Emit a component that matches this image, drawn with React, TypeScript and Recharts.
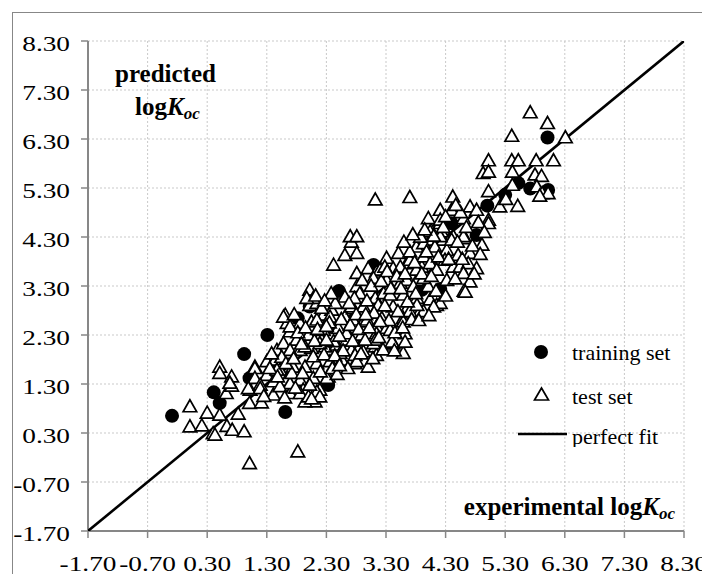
import { CartesianGrid, Legend, Scatter, ScatterChart, XAxis, YAxis } from "recharts";

const axisTicks = [-1.7, -0.7, 0.3, 1.3, 2.3, 3.3, 4.3, 5.3, 6.3, 7.3, 8.3];

// experimental, predicted
const trainingSet: [number, number][] = [
  [-0.29, 0.65], [0.41, 1.13], [0.51, 0.91], [0.92, 1.91], [1.01, 1.42],
  [1.31, 2.3], [1.61, 0.73], [1.82, 2.64], [2.02, 2.88], [2.33, 1.28],
  [2.51, 3.2], [3.09, 3.73], [3.9, 3.22], [4.21, 3.24], [4.4, 4.58],
  [4.82, 4.34], [5.0, 4.94], [5.3, 5.16], [5.52, 5.4], [5.72, 5.29],
  [6.01, 6.33], [6.02, 5.26],
];

const testSet: [number, number][] = [
  [0.01, 0.84], [0.01, 0.43], [0.21, 0.45], [0.3, 0.71], [0.4, 0.29], [0.43, 0.26],
  [0.51, 1.65], [0.51, 1.52], [0.51, 0.67], [0.63, 0.44], [0.62, 1.11], [0.71, 1.45],
  [0.71, 1.26], [0.68, 1.32], [0.72, 0.36], [0.82, 0.69], [0.92, 0.33], [1.01, 0.91],
  [1.02, 1.18], [1.01, -0.32], [1.1, 1.65], [1.21, 0.92], [1.82, -0.08], [2.11, 0.94],
  [2.19, 1.18],
  [1.61, 2.71], [1.64, 2.54], [1.69, 2.37], [2.02, 2.91], [2.14, 2.95], [1.86, 2.54],
  [2.05, 2.57], [2.25, 2.71], [2.39, 2.81], [2.61, 2.67], [2.75, 2.84], [1.47, 1.99],
  [1.58, 2.13], [1.8, 2.2], [2.0, 2.3], [2.19, 2.27], [2.42, 2.33], [2.64, 2.37],
  [1.3, 1.76], [1.44, 1.79], [1.66, 1.93], [1.86, 1.99], [2.05, 2.03], [2.28, 2.06],
  [2.47, 2.1], [2.72, 1.99], [1.1, 1.62], [1.1, 1.42], [1.3, 1.48], [1.52, 1.59],
  [1.74, 1.65], [1.94, 1.65], [2.14, 1.72], [2.36, 1.76], [2.56, 1.79], [2.78, 1.72],
  [0.99, 1.21], [1.19, 1.28], [1.41, 1.35], [1.63, 1.38], [1.86, 1.38], [2.08, 1.42],
  [2.33, 1.45], [1.41, 1.08], [1.69, 1.11], [1.91, 1.18], [2.14, 1.14], [1.94, 0.94],
  [1.19, 1.21],
  [2.72, 4.2], [2.61, 3.93], [2.81, 3.97], [2.42, 3.73], [3.31, 3.87], [3.0, 3.66],
  [3.14, 3.59], [2.81, 3.56], [2.02, 3.22], [2.08, 3.05], [1.97, 3.05], [2.61, 3.08],
  [2.81, 3.29], [2.72, 2.88], [2.92, 2.88], [3.12, 3.05], [3.26, 3.15], [3.42, 2.88],
  [2.14, 2.61], [2.36, 2.67], [2.25, 2.4], [2.5, 2.44], [2.92, 2.57], [3.14, 2.47],
  [3.31, 2.44], [1.69, 1.99], [1.94, 2.06], [2.19, 2.13], [2.42, 2.17], [2.64, 2.2],
  [2.86, 2.06], [3.12, 2.06], [3.4, 2.1], [2.53, 1.93], [2.78, 1.89], [3.14, 1.89],
  [2.7, 4.31], [2.81, 4.31], [3.51, 3.97], [3.81, 4.1], [4.01, 4.54], [4.21, 4.58],
  [4.04, 4.24], [4.26, 4.24], [4.43, 4.31], [4.43, 3.69], [3.2, 3.63], [3.42, 3.66],
  [3.65, 3.76], [3.9, 3.69], [4.12, 3.66], [3.09, 3.46], [3.31, 3.42], [3.54, 3.36],
  [3.82, 3.42], [4.01, 3.29], [2.86, 3.15], [3.37, 3.12], [3.59, 3.12], [3.82, 3.05],
  [4.04, 3.02], [4.15, 2.91], [3.17, 2.91], [3.65, 2.84], [3.87, 2.78], [2.75, 2.61],
  [2.98, 2.61], [3.23, 2.64], [3.59, 2.64], [2.64, 2.33], [2.89, 2.3], [3.14, 2.33],
  [3.37, 2.4], [3.62, 2.33], [3.09, 2.13], [3.42, 2.13],
  [3.7, 5.11], [4.42, 5.12], [4.21, 4.85], [4.4, 4.85], [4.71, 4.92], [4.82, 4.85],
  [4.01, 4.68], [4.21, 4.65], [4.6, 4.68], [5.02, 4.65], [5.21, 4.92], [4.04, 4.41],
  [4.23, 4.41], [4.63, 4.27], [4.91, 4.14], [3.93, 4.17], [4.12, 4.1], [4.32, 4.03],
  [4.51, 3.93], [4.71, 3.97], [3.7, 3.83], [3.93, 3.9], [4.04, 3.76], [4.29, 3.83],
  [4.54, 3.69], [4.68, 3.76], [4.82, 3.66], [3.28, 3.69], [3.54, 3.69], [3.81, 3.63],
  [4.15, 3.63], [3.65, 3.42], [3.93, 3.46], [4.32, 3.42], [4.6, 3.56], [4.71, 3.39],
  [3.76, 3.29],
  [3.12, 5.06], [4.61, 3.2], [4.21, 2.95], [4.1, 2.88], [4.6, 4.31],
  [5.72, 6.84], [6.01, 6.62], [5.41, 6.36], [6.31, 6.33], [5.02, 5.86], [5.41, 5.86],
  [5.52, 5.86], [5.82, 5.86], [6.11, 5.86], [4.93, 5.6], [5.02, 5.63], [5.42, 5.63],
  [5.8, 5.57], [5.91, 5.54], [5.42, 5.36], [5.83, 5.33], [5.92, 5.19], [6.02, 5.19],
  [5.02, 5.23], [5.31, 5.07], [5.51, 4.93], [5.02, 4.58], [4.4, 4.24], [4.21, 4.31],
  [5.88, 5.14],
  [3.59, 1.93], [3.0, 1.65], [2.81, 1.76], [2.92, 1.96], [3.12, 2.2], [3.4, 2.16],
  [3.62, 2.16], [3.59, 2.57], [3.7, 2.78], [3.93, 2.78], [4.63, 3.18], [3.82, 2.91],
  [1.58, 2.67], [1.69, 2.47], [1.47, 1.59], [1.69, 1.31], [1.86, 1.11], [2.0, 1.04],
  [2.19, 1.04], [2.31, 1.42],
  // denser core of the band
  [1.25, 1.05], [1.35, 1.62], [1.52, 1.25], [1.55, 1.85], [1.38, 1.92], [1.6, 1.02],
  [1.48, 1.45], [1.72, 1.52], [1.78, 1.22], [1.62, 1.72], [1.75, 1.82], [1.82, 2.35],
  [1.9, 1.52], [1.95, 2.45], [2.02, 1.28], [2.08, 1.86], [2.1, 2.18], [2.15, 2.42],
  [2.2, 1.55], [2.22, 2.85], [2.05, 1.0], [1.88, 2.12], [1.76, 2.72],
  [2.12, 3.1], [2.26, 1.9], [2.3, 2.2], [2.35, 2.55], [2.4, 1.62],
  [2.45, 2.95], [2.48, 1.5], [2.52, 2.28], [2.55, 2.62], [2.58, 1.98],
  [2.66, 1.62], [2.7, 2.5], [2.74, 2.18], [2.77, 3.05], [2.8, 2.72], [2.38, 3.15],
  [2.27, 3.0], [2.44, 1.88], [2.68, 2.95], [2.3, 2.48], [2.52, 1.68],
  [2.84, 2.42], [2.88, 1.92], [2.9, 3.42], [2.95, 2.2], [2.98, 3.0], [3.02, 2.45],
  [3.05, 3.3], [3.08, 1.82], [3.1, 2.75], [3.18, 2.25], [3.22, 3.4],
  [3.25, 2.0], [3.28, 2.9], [3.32, 3.6], [3.35, 2.6], [3.38, 3.25], [3.45, 2.35],
  [3.48, 3.5], [3.5, 2.78], [2.96, 2.72], [3.2, 2.58], [3.44, 1.98],
  [3.55, 3.25], [3.58, 2.45], [3.62, 3.55], [3.66, 2.98], [3.7, 4.0], [3.73, 2.62],
  [3.78, 3.78], [3.8, 3.15], [3.85, 2.6], [3.88, 4.3], [3.9, 3.55],
  [3.98, 4.0], [4.02, 2.7], [4.06, 3.5], [4.1, 4.32], [4.14, 3.2], [4.18, 3.9],
  [4.26, 4.5], [4.3, 3.1], [3.6, 4.2], [3.75, 4.35], [3.95, 4.45],
  [4.35, 3.85], [4.46, 3.45], [4.5, 4.2], [4.55, 4.8], [4.58, 3.85],
  [4.65, 4.5], [4.75, 4.12], [4.78, 3.55], [4.85, 4.6], [4.88, 3.95], [4.95, 4.4],
  [4.47, 4.95], [4.3, 4.72],
];

const perfectFit: [number, number][] = [[-1.7, -1.7], [8.3, 8.3]];

const toPoints = (rows: [number, number][]) => rows.map(([x, y]) => ({ x, y }));

const serif = "'Liberation Serif', 'Times New Roman', serif";
const axisGray = "#878787";

function Triangle(props: any) {
  const { cx, cy } = props;
  if (cx == null || cy == null) return null;
  return (
    <polygon
      points={`${cx},${cy - 6.8} ${cx - 6.8},${cy + 5.2} ${cx + 6.8},${cy + 5.2}`}
      fill="#fff"
      stroke="#000"
      strokeWidth={1.7}
    />
  );
}

function Dot(props: any) {
  const { cx, cy } = props;
  if (cx == null || cy == null) return null;
  return <circle cx={cx} cy={cy} r={7} fill="#000" />;
}

// tick labels in the original are drawn noticeably wide
function XTick(props: any) {
  const { x, y, payload } = props;
  return (
    <text
      transform={`translate(${x},${y + 7}) scale(1.3,1)`}
      textAnchor="middle"
      dominantBaseline="central"
      fontSize={21}
      fontFamily={serif}
      fill="#000"
    >
      {Number(payload.value).toFixed(2)}
    </text>
  );
}

function YTick(props: any) {
  const { x, y, payload } = props;
  return (
    <text
      transform={`translate(${x},${y + 3}) scale(1.3,1)`}
      textAnchor="end"
      dominantBaseline="central"
      fontSize={21}
      fontFamily={serif}
      fill="#000"
    >
      {Number(payload.value).toFixed(2)}
    </text>
  );
}

function LegendBox() {
  return (
    <svg width={175} height={112} style={{ fontFamily: serif }}>
      <circle cx={26} cy={17} r={7} fill="#000" />
      <text x={57} y={17} dominantBaseline="central" fontSize={22}>training set</text>
      <polygon points="26.5,53 19.5,65 33.5,65" fill="#fff" stroke="#000" strokeWidth={1.7} />
      <text x={57} y={61} dominantBaseline="central" fontSize={22}>test set</text>
      <line x1={3} x2={52} y1={99} y2={99} stroke="#000" strokeWidth={2.5} />
      <text x={57} y={101} dominantBaseline="central" fontSize={22}>perfect fit</text>
    </svg>
  );
}

export default function App() {
  return (
    <div style={{ position: "relative", width: 710, height: 582, margin: -8, overflow: "hidden", background: "#fff" }}>
      <div
        style={{
          position: "absolute",
          left: 12,
          top: 12,
          width: 720,
          height: 600,
          borderLeft: `1.5px solid ${axisGray}`,
          borderTop: `1.5px solid ${axisGray}`,
        }}
      />
      <ScatterChart width={710} height={582} margin={{ top: 41, right: 26, left: 0, bottom: 0 }}>
        <CartesianGrid stroke="#c9c9c9" strokeDasharray="2 2" />
        <XAxis
          type="number"
          dataKey="x"
          domain={[-1.7, 8.3]}
          ticks={axisTicks}
          height={51}
          tickSize={7}
          tickMargin={19}
          axisLine={{ stroke: axisGray, strokeWidth: 2 }}
          tickLine={{ stroke: axisGray, strokeWidth: 1.5 }}
          tick={<XTick />}
          interval={0}
          allowDataOverflow
        />
        <YAxis
          type="number"
          dataKey="y"
          domain={[-1.7, 8.3]}
          ticks={axisTicks}
          width={88}
          tickSize={7}
          tickMargin={11}
          axisLine={{ stroke: axisGray, strokeWidth: 2 }}
          tickLine={{ stroke: axisGray, strokeWidth: 1.5 }}
          tick={<YTick />}
          interval={0}
          allowDataOverflow
        />
        <Scatter
          name="perfect fit"
          data={toPoints(perfectFit)}
          line={{ stroke: "#000", strokeWidth: 2.6 }}
          shape={() => <g />}
          isAnimationActive={false}
        />
        <Scatter name="training set" data={toPoints(trainingSet)} shape={Dot} isAnimationActive={false} />
        <Scatter name="test set" data={toPoints(testSet)} shape={Triangle} isAnimationActive={false} />
        <Legend
          layout="horizontal"
          verticalAlign="middle"
          align="center"
          content={() => <LegendBox />}
          wrapperStyle={{ position: "absolute", left: 515, top: 335, width: 175, height: 112 }}
        />
      </ScatterChart>
      <div style={{ position: "absolute", left: 115, top: 60, fontFamily: serif, fontWeight: "bold", fontSize: 25, lineHeight: "28px" }}>
        predicted
      </div>
      <div style={{ position: "absolute", left: 135, top: 93, fontFamily: serif, fontWeight: "bold", fontSize: 25, lineHeight: "28px" }}>
        log<i>K<sub style={{ fontSize: 17, verticalAlign: "-4px" }}>oc</sub></i>
      </div>
      <div style={{ position: "absolute", right: 35, top: 493, fontFamily: serif, fontWeight: "bold", fontSize: 25, lineHeight: "28px", whiteSpace: "nowrap" }}>
        experimental log<i>K<sub style={{ fontSize: 17, verticalAlign: "-4px" }}>oc</sub></i>
      </div>
    </div>
  );
}
